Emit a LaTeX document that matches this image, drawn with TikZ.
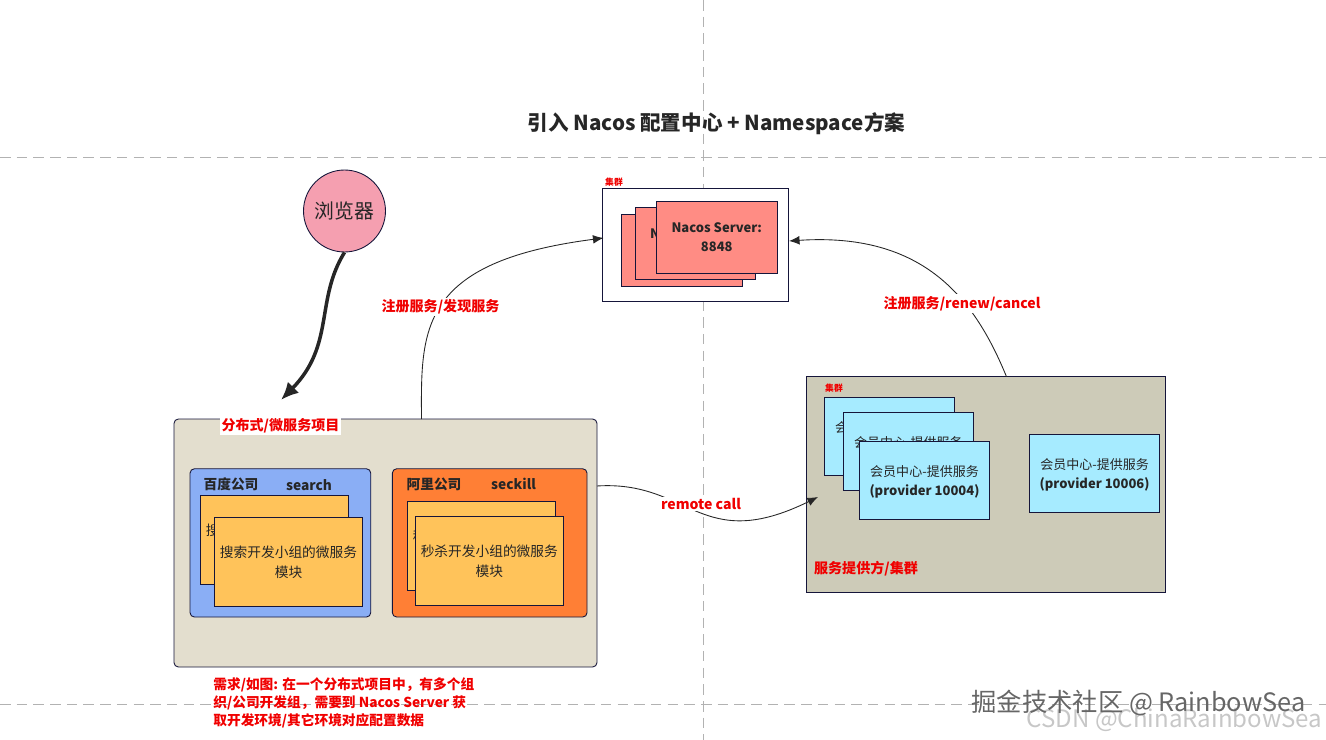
\documentclass[tikz,border=0pt]{standalone}
\usepackage{fontspec}
\setmainfont{Noto Sans CJK SC}
\usetikzlibrary{arrows.meta}
\definecolor{lineC}{HTML}{15153A}
\definecolor{redC}{HTML}{F00000}
\definecolor{projectC}{HTML}{E3DECE}
\definecolor{providerC}{HTML}{CDCBB8}
\definecolor{blueC}{HTML}{8AAEF5}
\definecolor{orangeC}{HTML}{FF7F35}
\definecolor{yellowC}{HTML}{FFC35A}
\definecolor{salmonC}{HTML}{FF8C84}
\definecolor{cyanC}{HTML}{A6EBFF}
\definecolor{pinkC}{HTML}{F59FB0}
\tikzset{
  boxsize/.style 2 args={minimum width=#1*0.02cm,minimum height=#2*0.02cm},
  box/.style={draw=lineC,line width=0.5pt,inner sep=0pt,outer sep=0pt,align=center,text=black!85,
    font=\fontsize{7.8}{11.4}\selectfont},
  panel/.style={box,rounded corners=2.5pt},
  yellowbox/.style={box,boxsize={148}{89},fill=yellowC},
  redbox/.style={box,boxsize={120.5}{72},fill=salmonC,font=\fontsize{7.4}{10.6}\selectfont\bfseries},
  cyanbox/.style={box,boxsize={130.5}{78},fill=cyanC,text depth=-1.3pt,font=\fontsize{7.4}{10.8}\selectfont},
  redlabel/.style={text=redC,inner sep=1pt,font=\fontsize{8}{10.2}\selectfont\bfseries},
  headlabel/.style={text=black!85,inner sep=0pt,font=\fontsize{7.8}{10}\selectfont\bfseries},
  tinylabel/.style={text=redC,inner sep=0pt,font=\fontsize{5}{6}\selectfont\bfseries},
  link/.style={draw=black!85,line width=0.5pt,-{Latex[length=6pt,width=5pt]}},
  guide/.style={draw=black!30,line width=0.45pt,dash pattern=on 6pt off 3.5pt}
}
\begin{document}
\begin{tikzpicture}[x=0.02cm,y=-0.02cm]
    \useasboundingbox (0,0) rectangle (1326,740);
    \draw[guide] (703,0)--(703,740);
    \draw[guide] (0,157)--(1326,157);
    \draw[guide] (0,704)--(1326,704);
    \node[font=\fontsize{11.7}{14}\selectfont\bfseries,text=black!85,inner sep=0pt] (title) at (716.5,124) {引入 Nacos 配置中心 + Namespace方案};

    \node[circle,draw=lineC,line width=0.5pt,fill=pinkC,minimum size=1.64cm,inner sep=0pt,text=black!85,font=\fontsize{11.3}{14}\selectfont] (browser) at (344.5,211) {浏览器};

    \node[box,fill=white,boxsize={186}{113}] (cluster) at (695.3,244.7) {};
    \node[tinylabel] (clusterTag) at (614,182) {集群};
    \node[redbox] (nacosA) at (681.7,250.3) {Nacos Server:\\8848};
    \node[redbox] (nacosB) at (695.3,243.3) {Nacos Server:\\8848};
    \node[redbox,minimum width=2.42cm] (nacosC) at (716.8,237.3) {Nacos Server:\\8848};

    \node[panel,fill=projectC,boxsize={423}{248}] (project) at (385.5,543) {};
    \node[redlabel,fill=white] (projectTag) at (280.5,426) {分布式/微服务项目};
    \node[panel,fill=blueC,boxsize={180.7}{148.3}] (baidu) at (280.4,542.9) {};
    \node[panel,fill=orangeC,boxsize={194.7}{148.3}] (ali) at (489.7,542.9) {};
    \node[headlabel] (baiduName) at (231,484) {百度公司};
    \node[headlabel] (baiduApp) at (309,485) {search};
    \node[headlabel] (aliName) at (434,484) {阿里公司};
    \node[headlabel] (aliApp) at (513.5,484) {seckill};
    \node[yellowbox] (searchA) at (274.3,539.8) {搜索开发小组的微服务\\模块};
    \node[yellowbox] (searchB) at (288.5,562.3) {搜索开发小组的微服务\\模块};
    \node[yellowbox] (seckillA) at (481.3,545.8) {秒杀开发小组的微服务\\模块};
    \node[yellowbox] (seckillB) at (489.3,560.8) {秒杀开发小组的微服务\\模块};

    \node[box,fill=providerC,boxsize={359}{215.3}] (provider) at (986.2,484.3) {};
    \node[tinylabel] (providerTag) at (834,388) {集群};
    \node[cyanbox] (memberA) at (889.5,436.8) {会员中心-提供服务\\\mbox{}};
    \node[cyanbox] (memberB) at (908.3,451.3) {会员中心-提供服务\\\mbox{}};
    \node[cyanbox] (memberC) at (924.5,480.3) {会员中心-提供服务\\\textbf{(provider 10004)}};
    \node[cyanbox] (memberD) at (1094.6,473.3) {会员中心-提供服务\\\textbf{(provider 10006)}};
    \node[redlabel] (providerName) at (866,569) {服务提供方/集群};

    \coordinate (projectTop) at (421.5,419);
    \coordinate (projectRight) at (597,486);
    \coordinate (providerTop) at (1006.5,376.7);
    \coordinate (nacosLeft) at (603.5,238);
    \coordinate (nacosRight) at (789,241);
    \coordinate (providerIn) at (818,497);
    \coordinate (projectIn) at (281,400);

    \draw[link] (projectTop) .. controls (421,330) and (418,262) .. (nacosLeft);
    \draw[link] (providerTop) .. controls (975,300) and (925,232) .. (nacosRight);
    \draw[link] (projectRight) .. controls (690,480) and (700,555) .. (providerIn);
    \draw[draw=black!85,line width=2pt,-{Latex[length=10pt,width=9pt]}] (browser.south) .. controls (315,300) and (335,345) .. (projectIn);

    \node[redlabel,fill=white] (registerFind) at (440.5,307) {注册服务/发现服务};
    \node[redlabel,fill=white] (registerRenew) at (962,303.5) {注册服务/renew/cancel};
    \node[redlabel,fill=white] (remoteCall) at (701,504) {remote call};

    \node[redlabel,anchor=north west,align=left,inner sep=0pt,font=\fontsize{7.8}{10.2}\selectfont\bfseries] (needText) at (213,677) {需求/如图: 在一个分布式项目中，有多个组\\织/公司开发组，需要到 Nacos Server 获\\取开发环境/其它环境对应配置数据};

    \node[text=black!22,inner sep=0pt,font=\fontsize{13.7}{16}\selectfont] (markCsdn) at (1174.5,720) {CSDN @ChinaRainbowSea};
    \node[text=black!60,inner sep=0pt,font=\fontsize{14.4}{16}\selectfont] (markJuejin) at (1138.5,703) {掘金技术社区 @ RainbowSea};
\end{tikzpicture}
\end{document}
